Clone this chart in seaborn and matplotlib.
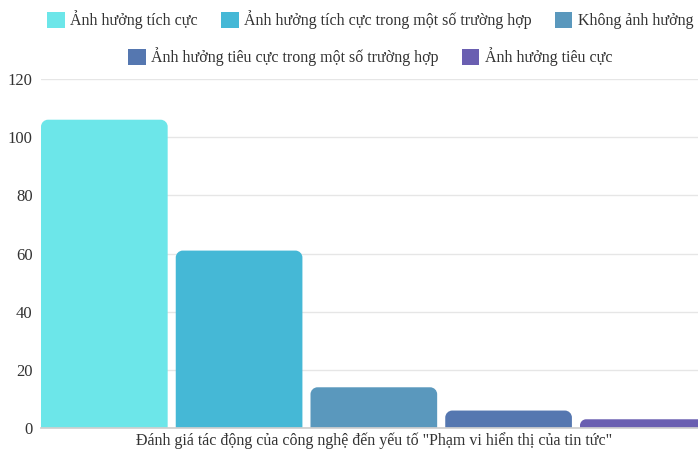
import matplotlib
matplotlib.use("Agg")
import matplotlib.pyplot as plt
from matplotlib.patches import PathPatch, Patch
from matplotlib.path import Path
import seaborn as sns
import pandas as pd

# Survey responses about one news-display factor
group_label = 'Đánh giá tác động của công nghệ đến yếu tố "Phạm vi hiển thị của tin tức"'
answers = [
    "Ảnh hưởng tích cực",
    "Ảnh hưởng tích cực trong một số trường hợp",
    "Không ảnh hưởng",
    "Ảnh hưởng tiêu cực trong một số trường hợp",
    "Ảnh hưởng tiêu cực",
]
counts = [106, 61, 14, 6, 3]
colors = ["#6ce6e9", "#45b8d6", "#5a98bd", "#5577b0", "#6a5fb1"]
y_ticks = [0, 20, 40, 60, 80, 100, 120]

sns.set_theme(style="white")
plt.rcParams["font.family"] = ["Liberation Serif", "DejaVu Serif"]

df = pd.DataFrame({"group": [group_label] * len(answers), "answer": answers, "count": counts})

W, H = 698, 449
fig = plt.figure(figsize=(W / 100, H / 100), dpi=100)
ax_left, ax_right, ax_bottom, ax_top = 41, 714.75, 428, 79
ax = fig.add_axes([ax_left / W, (H - ax_bottom) / H, (ax_right - ax_left) / W, (ax_bottom - ax_top) / H])

gap = 0.06
sns.barplot(data=df, x="group", y="count", hue="answer", hue_order=answers,
            palette=colors, saturation=1, width=1.0, gap=gap, legend=False, ax=ax)

shift = 0.2 * gap / 2
ax.set_xlim(-0.5 + shift, 0.5 + shift)
ax.set_ylim(0, 120)


def top_rounded_path(x, w, h, rx, ry):
    """Bar outline with rounded top corners and a square base."""
    k = 0.5523
    verts = [
        (x, 0), (x, h - ry),
        (x, h - ry + k * ry), (x + rx - k * rx, h), (x + rx, h),
        (x + w - rx, h),
        (x + w - rx + k * rx, h), (x + w, h - ry + k * ry), (x + w, h - ry),
        (x + w, 0), (x, 0),
    ]
    codes = [Path.MOVETO, Path.LINETO,
             Path.CURVE4, Path.CURVE4, Path.CURVE4,
             Path.LINETO,
             Path.CURVE4, Path.CURVE4, Path.CURVE4,
             Path.LINETO, Path.CLOSEPOLY]
    return Path(verts, codes)


px_per_x = (ax_right - ax_left) / 1.0
px_per_y = (ax_bottom - ax_top) / 120.0
radius_px = 7
for p in list(ax.patches):
    x, w, h = p.get_x(), p.get_width(), p.get_height()
    fc = p.get_facecolor()
    p.remove()
    r_px = min(radius_px, h * px_per_y * 0.7)
    ax.add_patch(PathPatch(top_rounded_path(x, w, h, r_px / px_per_x, r_px / px_per_y),
                           fc=fc, ec="none", zorder=2))

ax.set_yticks(y_ticks)
ax.yaxis.grid(True, color="#e6e6e6", linewidth=1)
ax.set_axisbelow(True)
for s in ["left", "right", "top"]:
    ax.spines[s].set_visible(False)
ax.spines["bottom"].set_color("#cfcfcf")
ax.tick_params(axis="y", length=0, labelsize=12, labelcolor="#333333", pad=6)
ax.tick_params(axis="x", length=0, labelsize=11.5, labelcolor="#333333", pad=3)
ax.set_xlabel("")
ax.set_ylabel("")

handles = [Patch(facecolor=c, edgecolor="none") for c in colors]
leg_kw = dict(frameon=False, fontsize=11.5, handlelength=1.1, handleheight=1.1,
              handletextpad=0.35, columnspacing=1.45, borderpad=0, borderaxespad=0,
              labelcolor="#333333")
fig.legend(handles[:3], answers[:3], loc="center left", ncol=3,
           bbox_to_anchor=(47 / W, 1 - 20 / H), **leg_kw)
fig.legend(handles[3:], answers[3:], loc="center left", ncol=2,
           bbox_to_anchor=(128 / W, 1 - 57 / H), **leg_kw)

fig.savefig("out.png", dpi=100)
